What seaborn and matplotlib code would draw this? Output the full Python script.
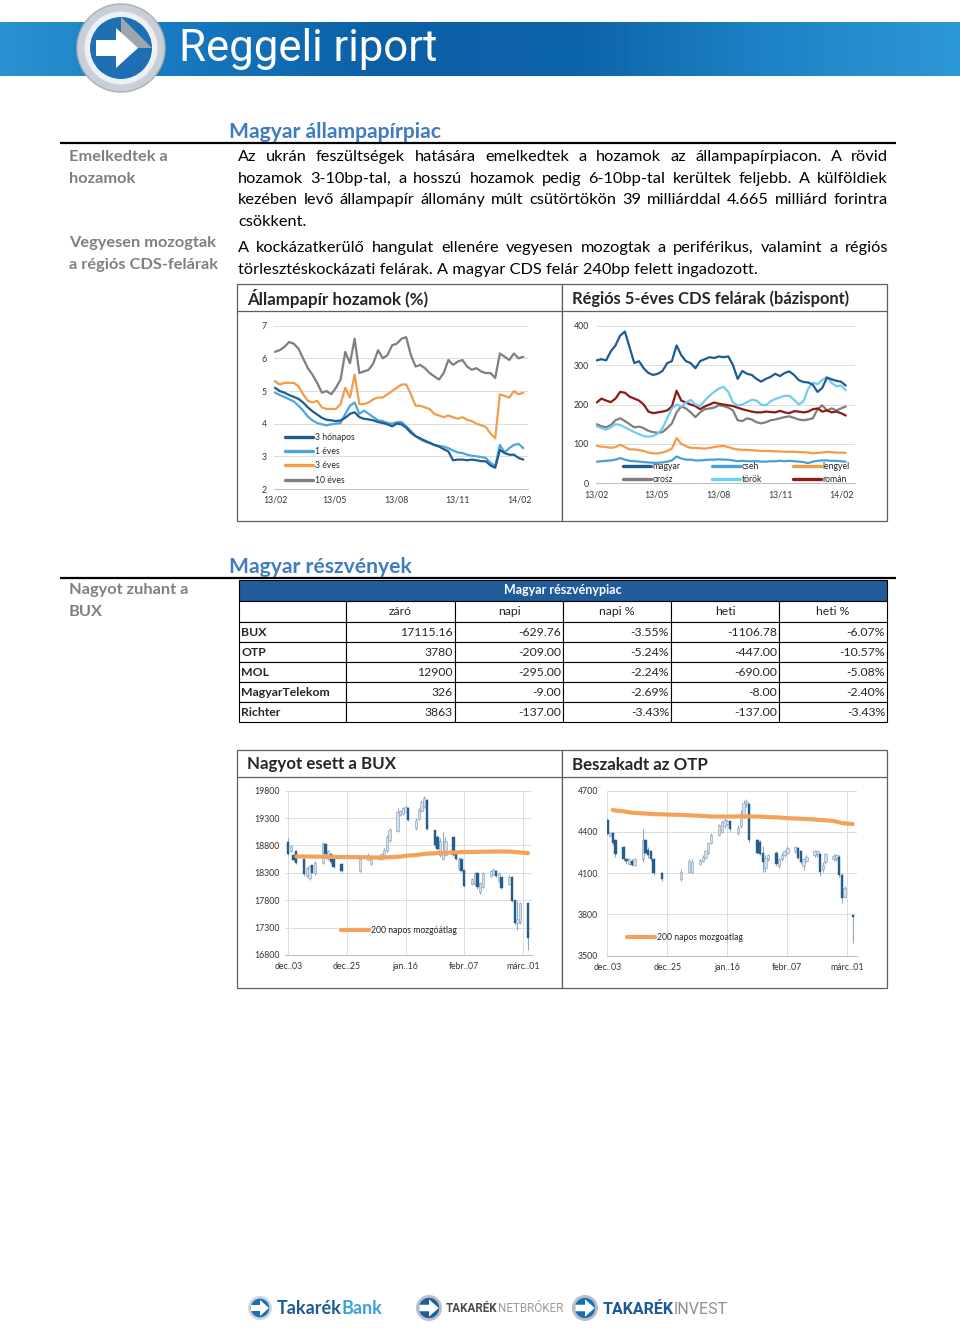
import numpy as np
import pandas as pd
import matplotlib
matplotlib.use("Agg")
import matplotlib.pyplot as plt
import matplotlib.dates as mdates
from matplotlib.lines import Line2D
from matplotlib.patches import Rectangle, Circle, Polygon
from matplotlib.colors import LinearSegmentedColormap
import seaborn as sns

sns.set_theme(style="white")
plt.rcParams["font.family"] = ["Lato", "DejaVu Sans"]

# ---------------- data ----------------
# Állampapír hozamok (%), weekly from 2013-02-01
yield_dates = pd.date_range("2013-02-01", periods=54, freq="7D")
y_3m = [5.1, 5.0, 4.95, 4.88, 4.82, 4.76, 4.65, 4.5, 4.38, 4.28,
        4.18, 4.12, 4.1, 4.08, 4.1, 4.18, 4.3, 4.35, 4.2, 4.15,
        4.13, 4.1, 4.05, 4.02, 3.98, 3.92, 4.0, 3.98, 3.88, 3.72,
        3.62, 3.55, 3.48, 3.42, 3.35, 3.3, 3.22, 3.15, 2.88, 2.9,
        2.9, 2.88, 2.9, 2.88, 2.85, 2.85, 2.72, 2.65, 3.2, 3.1,
        3.05, 3.05, 2.95, 2.9]
y_1y = [4.95, 4.88, 4.82, 4.75, 4.68, 4.55, 4.4, 4.22, 4.1, 4.02,
        3.98, 3.95, 3.98, 4.0, 4.02, 4.3, 4.55, 4.65, 4.3, 4.4,
        4.3, 4.2, 4.1, 4.08, 4.02, 4.0, 4.05, 4.05, 3.92, 3.78,
        3.62, 3.52, 3.45, 3.4, 3.35, 3.32, 3.3, 3.25, 3.18, 3.12,
        3.1, 3.05, 3.02, 3.0, 2.98, 2.95, 2.8, 2.7, 3.35, 3.12,
        3.25, 3.35, 3.38, 3.25]
y_3y = [5.3, 5.2, 5.25, 5.25, 5.25, 5.15, 4.9, 4.7, 4.65, 4.7,
        4.5, 4.45, 4.45, 4.45, 4.6, 5.1, 4.8, 5.5, 4.6, 4.6,
        4.65, 4.75, 4.8, 4.8, 4.9, 5.0, 5.1, 5.2, 5.2, 4.9,
        4.55, 4.55, 4.5, 4.45, 4.3, 4.25, 4.2, 4.25, 4.2, 4.15,
        4.2, 4.12, 4.08, 4.0, 3.95, 3.9, 3.7, 3.55, 4.9, 4.85,
        4.8, 5.0, 4.9, 4.95]
y_10y = [6.2, 6.25, 6.35, 6.5, 6.45, 6.3, 6.0, 5.7, 5.5, 5.25,
         4.95, 5.0, 4.9, 5.1, 5.35, 6.2, 5.85, 6.6, 5.55, 5.6,
         5.65, 5.85, 6.25, 6.0, 6.1, 6.4, 6.45, 6.6, 6.65, 6.1,
         5.75, 5.8, 5.7, 5.55, 5.45, 5.35, 5.55, 5.95, 5.8, 5.9,
         5.95, 5.75, 5.65, 5.7, 5.6, 5.55, 5.55, 5.4, 6.15, 6.05,
         5.95, 6.15, 6.0, 6.05]
yield_names = ["3 hónapos", "1 éves", "3 éves", "10 éves"]
yield_colors = ["#1f5b94", "#4ea5dc", "#f39c4a", "#7f7f7f"]
yield_ticks = ["2013-02-01", "2013-05-01", "2013-08-01", "2013-11-01", "2014-02-01"]
yield_ticklabels = ["13/02", "13/05", "13/08", "13/11", "14/02"]

# Régiós 5-éves CDS felárak (bázispont)
cds_magyar = [312, 315, 312, 335, 350, 375, 385, 345, 305, 310,
              292, 280, 275, 278, 285, 305, 310, 350, 325, 310,
              305, 292, 310, 315, 320, 318, 322, 320, 322, 300,
              265, 285, 278, 275, 265, 258, 265, 270, 278, 272,
              280, 284, 275, 262, 257, 256, 250, 232, 242, 268,
              264, 260, 258, 248]
cds_cseh = [55, 56, 57, 58, 60, 64, 60, 57, 56, 55,
            54, 53, 52, 52, 53, 55, 58, 68, 63, 60,
            60, 58, 58, 59, 60, 60, 61, 60, 60, 58,
            56, 57, 56, 56, 56, 55, 55, 56, 56, 57,
            56, 57, 56, 55, 54, 51, 55, 57, 58, 58,
            57, 57, 56, 55]
cds_lengyel = [95, 93, 92, 90, 92, 98, 92, 86, 86, 84,
               82, 78, 76, 76, 78, 82, 88, 115, 100, 94,
               90, 90, 89, 88, 90, 92, 94, 95, 92, 88,
               86, 85, 85, 84, 83, 82, 82, 82, 81, 81,
               80, 80, 80, 79, 79, 78, 76, 77, 78, 80,
               79, 78, 78, 77]
cds_orosz = [150, 145, 142, 148, 160, 165, 158, 150, 142, 144,
             140, 133, 130, 128, 130, 140, 152, 180, 195, 190,
             180, 168, 180, 188, 190, 192, 198, 196, 192, 185,
             160, 158, 165, 162, 155, 152, 155, 160, 162, 165,
             168, 170, 166, 162, 160, 162, 165, 188, 198, 185,
             190, 185, 190, 195]
cds_torok = [145, 140, 136, 142, 150, 148, 142, 136, 130, 125,
             120, 118, 120, 126, 140, 165, 190, 200, 195, 205,
             212, 200, 196, 210, 222, 232, 240, 245, 232, 205,
             198, 200, 206, 212, 210, 200, 198, 208, 214, 218,
             222, 222, 212, 200, 208, 240, 255, 252, 262, 270,
             255, 246, 248, 236]
cds_roman = [205, 215, 210, 206, 215, 232, 230, 220, 215, 210,
             200, 182, 178, 180, 182, 185, 195, 235, 210, 205,
             200, 196, 188, 195, 200, 205, 202, 200, 198, 196,
             192, 188, 185, 182, 180, 180, 182, 181, 180, 184,
             180, 178, 183, 182, 180, 182, 188, 190, 182, 185,
             180, 182, 178, 172]
cds_names = ["magyar", "cseh", "lengyel", "orosz", "török", "román"]
cds_colors = ["#1f5b94", "#4a9fd8", "#f39c4a", "#7f7f7f", "#6fcdf2", "#8c1c13"]

# Magyar részvénypiac table
table_cols = ["záró", "napi", "napi %", "heti", "heti %"]
table_rows = ["BUX", "OTP", "MOL", "MagyarTelekom", "Richter"]
table_vals = [["17115.16", "-629.76", "-3.55%", "-1106.78", "-6.07%"],
              ["3780", "-209.00", "-5.24%", "-447.00", "-10.57%"],
              ["12900", "-295.00", "-2.24%", "-690.00", "-5.08%"],
              ["326", "-9.00", "-2.69%", "-8.00", "-2.40%"],
              ["3863", "-137.00", "-3.43%", "-137.00", "-3.43%"]]

# daily candles, BUX and OTP
candle_dates = ["2013-12-03", "2013-12-04", "2013-12-05", "2013-12-06",
                "2013-12-09", "2013-12-10", "2013-12-11", "2013-12-12", "2013-12-13",
                "2013-12-16", "2013-12-17", "2013-12-18", "2013-12-19", "2013-12-20",
                "2013-12-23", "2013-12-30",
                "2014-01-02", "2014-01-03",
                "2014-01-06", "2014-01-07", "2014-01-08", "2014-01-09", "2014-01-10",
                "2014-01-13", "2014-01-14", "2014-01-15", "2014-01-16", "2014-01-17",
                "2014-01-20", "2014-01-21", "2014-01-22", "2014-01-23", "2014-01-24",
                "2014-01-27", "2014-01-28", "2014-01-29", "2014-01-30", "2014-01-31",
                "2014-02-03", "2014-02-04", "2014-02-05", "2014-02-06", "2014-02-07",
                "2014-02-10", "2014-02-11", "2014-02-12", "2014-02-13", "2014-02-14",
                "2014-02-17", "2014-02-18", "2014-02-19", "2014-02-20", "2014-02-21",
                "2014-02-24", "2014-02-25", "2014-02-26", "2014-02-27", "2014-02-28",
                "2014-03-03"]
bux_open = [18870, 18690, 18620, 18700,
            18560, 18250, 18200, 18440, 18300,
            18480, 18830, 18560, 18650, 18600,
            18470, 18330,
            18540, 18460,
            18560, 18560, 18620, 18700, 18900,
            19070, 19350, 19380, 19420, 19490,
            19120, 19290, 19430, 19510, 19630,
            19080, 18960, 18620, 18550, 18620,
            18950, 18660, 18380, 18560, 18350,
            18100, 18100, 18300, 17950, 18050,
            18240, 18270, 18340, 18150, 18220,
            18090, 18230, 17800, 17380, 17400,
            17745]
bux_close = [18650, 18790, 18540, 18480,
             18270, 18390, 18420, 18300, 18480,
             18840, 18640, 18700, 18500, 18400,
             18330, 18550,
             18630, 18600,
             18610, 18640, 18720, 18950, 19080,
             19420, 19430, 19480, 19510, 19260,
             19270, 19450, 19600, 19660, 19100,
             18800, 18730, 18880, 18700, 18880,
             18620, 18550, 18560, 18340, 18060,
             18180, 18300, 18040, 18120, 18300,
             18340, 18360, 18250, 18300, 18030,
             18222, 17780, 17380, 17460, 17745,
             17115]
bux_high = [18930, 18810, 18640, 18720,
            18570, 18410, 18440, 18450, 18510,
            18870, 18840, 18720, 18660, 18620,
            18480, 18570,
            18660, 18630,
            18630, 18660, 18750, 18990, 19110,
            19480, 19450, 19510, 19540, 19510,
            19300, 19480, 19630, 19700, 19650,
            19090, 18990, 18930, 19050, 18960,
            18960, 18690, 18590, 18570, 18360,
            18200, 18320, 18320, 18140, 18320,
            18350, 18380, 18350, 18320, 18230,
            18260, 18240, 17810, 17780, 17760,
            17760]
bux_low = [18620, 18680, 18520, 18470,
           18240, 18220, 18170, 18290, 18260,
           18470, 18620, 18530, 18470, 18380,
           18320, 18320,
           18530, 18440,
           18540, 18530, 18600, 18680, 18870,
           19050, 19330, 19360, 19410, 19240,
           19090, 19270, 19420, 19480, 19080,
           18780, 18710, 18590, 18530, 18600,
           18600, 18530, 18350, 18320, 18040,
           18080, 18080, 18010, 17920, 18020,
           18230, 18260, 18230, 18140, 18010,
           18080, 17760, 17340, 17260, 17370,
           16890]
bux_ma = [None, None, None, 18600,
          18600, 18600, 18598, 18597, 18596,
          18595, 18594, 18593, 18592, 18591,
          18590, 18585,
          18582, 18581,
          18580, 18580, 18580, 18582, 18585,
          18592, 18597, 18603, 18610, 18616,
          18625, 18632, 18638, 18645, 18650,
          18657, 18660, 18663, 18666, 18670,
          18672, 18674, 18676, 18678, 18680,
          18681, 18682, 18683, 18684, 18685,
          18687, 18688, 18689, 18690, 18690,
          18688, 18685, 18680, 18677, 18673,
          18660]
otp_open = [4490, 4370, 4390, 4340,
            4290, 4200, 4170, 4190, 4160,
            4200, 4340, 4270, 4260, 4200,
            4100, 4060,
            4110, 4110,
            4170, 4190, 4210, 4250, 4320,
            4380, 4400, 4440, 4460, 4480,
            4390, 4440, 4520, 4600, 4600,
            4340, 4330, 4250, 4140, 4200,
            4250, 4150, 4200, 4230, 4250,
            4260, 4280, 4260, 4150, 4190,
            4230, 4240, 4240, 4130, 4180,
            4200, 4210, 4220, 4090, 3930,
            3795]
otp_close = [4385, 4395, 4320, 4240,
             4200, 4190, 4200, 4160, 4200,
             4340, 4250, 4230, 4200, 4100,
             4060, 4110,
             4190, 4180,
             4195, 4220, 4260, 4320, 4380,
             4450, 4470, 4490, 4480, 4420,
             4430, 4530, 4610, 4620, 4340,
             4250, 4240, 4180, 4210, 4230,
             4170, 4200, 4230, 4260, 4280,
             4290, 4210, 4180, 4200, 4220,
             4260, 4260, 4110, 4160, 4240,
             4227, 4230, 4090, 3920, 3989,
             3780]
otp_high = [4500, 4400, 4400, 4350,
            4300, 4210, 4210, 4200, 4210,
            4420, 4350, 4290, 4270, 4210,
            4110, 4130,
            4200, 4200,
            4200, 4230, 4270, 4330, 4390,
            4460, 4480, 4510, 4490, 4490,
            4450, 4560, 4630, 4640, 4610,
            4350, 4340, 4300, 4230, 4240,
            4260, 4210, 4250, 4270, 4300,
            4300, 4290, 4270, 4210, 4230,
            4270, 4270, 4250, 4180, 4250,
            4240, 4240, 4230, 4100, 4010,
            3795]
otp_low = [4375, 4365, 4305, 4220,
           4190, 4170, 4160, 4150, 4150,
           4180, 4240, 4210, 4190, 4090,
           4040, 4040,
           4100, 4100,
           4160, 4180, 4200, 4240, 4310,
           4370, 4390, 4430, 4450, 4410,
           4380, 4430, 4500, 4580, 4330,
           4240, 4230, 4110, 4110, 4190,
           4150, 4140, 4190, 4220, 4240,
           4250, 4200, 4170, 4120, 4180,
           4220, 4220, 4080, 4110, 4170,
           4190, 4190, 4070, 3880, 3920,
           3590]
otp_ma = [None, None, 4560, 4556,
          4550, 4546, 4543, 4540, 4538,
          4535, 4534, 4532, 4531, 4530,
          4528, 4524,
          4521, 4520,
          4518, 4516, 4515, 4514, 4512,
          4512, 4512, 4512, 4512, 4512,
          4513, 4513, 4513, 4513, 4513,
          4512, 4511, 4510, 4509, 4508,
          4506, 4505, 4503, 4502, 4500,
          4498, 4497, 4496, 4495, 4494,
          4491, 4489, 4487, 4486, 4485,
          4480, 4475, 4470, 4465, 4462,
          4458]
stock_ticks = ["2013-12-03", "2013-12-25", "2014-01-16", "2014-02-07", "2014-03-01"]
stock_ticklabels = ["dec..03", "dec..25", "jan..16", "febr..07", "márc..01"]

# ---------------- page ----------------
W, H = 960, 1329
fig = plt.figure(figsize=(W / 100, H / 100), dpi=100)
bg = fig.add_axes([0, 0, 1, 1])
bg.set_xlim(0, W)
bg.set_ylim(H, 0)
bg.axis("off")
renderer = fig.canvas.get_renderer()


def add_ax(x0, y0, x1, y1):
    return fig.add_axes([x0 / W, 1 - y1 / H, (x1 - x0) / W, (y1 - y0) / H])


def hline(x0, x1, y, color="black", lw=1.0):
    bg.plot([x0, x1], [y, y], color=color, lw=lw, solid_capstyle="butt")


def width_of(t):
    return t.get_window_extent(renderer=renderer).width


# header band
band = LinearSegmentedColormap.from_list(
    "band", ["#2b92d2", "#1677be", "#0b5fa5", "#0d63a9", "#1e82c6", "#2d98d6"])
grad = np.linspace(0, 1, 400).reshape(1, -1)
bg.imshow(grad, extent=(0, W, 76, 22), aspect="auto", cmap=band, zorder=1)
bg.set_xlim(0, W)
bg.set_ylim(H, 0)
bg.add_patch(Circle((121, 48), 44, fc="#c9cfd6", ec="#a9b1ba", lw=1, zorder=2))
bg.add_patch(Circle((121, 48), 37, fc="#eef1f4", ec="#d0d5db", lw=1, zorder=3))
bg.add_patch(Circle((121, 48), 31, fc="#1e6fb3", ec="none", zorder=4))
bg.add_patch(Polygon([(121, 17), (152, 48), (121, 48)], fc="#9da6ae", ec="none", zorder=4))
bg.add_patch(Polygon([(96, 40), (116, 40), (116, 28), (138, 48), (116, 68), (116, 56), (96, 56)],
                     fc="white", ec="none", zorder=5))
bg.text(179, 49, "Reggeli riport", color="white", fontsize=31.5, weight="normal",
        family=["Roboto", "DejaVu Sans"], va="center", ha="left", zorder=6)

# section headings and rules
head_col = "#3f7cc4"
bg.text(229, 138, "Magyar állampapírpiac", color=head_col, fontsize=15.2, weight="bold",
        va="baseline")
hline(60, 896, 143, lw=1.6)
bg.text(229, 573, "Magyar részvények", color=head_col, fontsize=15.2, weight="bold",
        va="baseline")
hline(60, 896, 578, lw=1.6)

side_col = "#808080"
for y, s in [(161, "Emelkedtek a"), (183, "hozamok"), (247, "Vegyesen mozogtak"),
             (269, "a régiós CDS-felárak"), (594, "Nagyot zuhant a"), (616, "BUX")]:
    bg.text(69, y, s, color=side_col, fontsize=11.8, weight="bold", va="baseline")

body_size = 11.75
lines = [
    ("Az ukrán feszültségek hatására emelkedtek a hozamok az állampapírpiacon. A rövid", 161, True),
    ("hozamok 3-10bp-tal, a hosszú hozamok pedig 6-10bp-tal kerültek feljebb. A külföldiek", 183, True),
    ("kezében levő állampapír állomány múlt csütörtökön 39 milliárddal 4.665 milliárd forintra", 204, True),
    ("csökkent.", 226, False),
    ("A kockázatkerülő hangulat ellenére vegyesen mozogtak a periférikus, valamint a régiós", 252, True),
    ("törlesztéskockázati felárak. A magyar CDS felár 240bp felett ingadozott.", 274, False),
]
for s, y, just in lines:
    if not just:
        bg.text(238, y, s, fontsize=body_size, va="baseline", color="black")
        continue
    words = s.split(" ")
    arts = [bg.text(238, y, w, fontsize=body_size, va="baseline", color="black") for w in words]
    wids = [width_of(a) for a in arts]
    gap = (888 - 238 - sum(wids)) / (len(arts) - 1)
    x = 238
    for a, w in zip(arts, wids):
        a.set_x(x)
        x += w + gap

# chart frames
frame_col = "#5f5f5f"
for (x0, y0, x1, y1, yt, title, fs) in [
        (237, 284, 562, 521, 311, "Állampapír hozamok (%)", 12.2),
        (562, 284, 887, 521, 311, "Régiós 5-éves CDS felárak (bázispont)", 11.9),
        (237, 750, 562, 988, 777, "Nagyot esett a BUX", 12.2),
        (562, 750, 887, 988, 777, "Beszakadt az OTP", 12.2)]:
    bg.add_patch(Rectangle((x0, y0), x1 - x0, y1 - y0, fc="white", ec=frame_col, lw=0.9))
    hline(x0, x1, yt, color=frame_col, lw=0.9)
    bg.text(x0 + 10, (y0 + yt) / 2 + 1, title, fontsize=fs, weight="bold", va="center")


def date_lim(ax, d0, p0, d1, p1, left, right):
    n0, n1 = mdates.date2num(pd.Timestamp(d0)), mdates.date2num(pd.Timestamp(d1))
    s = (n1 - n0) / (p1 - p0)
    ax.set_xlim(n0 + (left - p0) * s, n0 + (right - p0) * s)


def style_ax(ax, ticks, labels, ypad, xpad, vgrid=False):
    ax.set_facecolor("none")
    ax.set_xticks(mdates.date2num(pd.to_datetime(ticks)))
    ax.set_xticklabels(labels)
    for sp in ["left", "top", "right"]:
        ax.spines[sp].set_visible(False)
    ax.spines["bottom"].set_color("#bfbfbf")
    ax.spines["bottom"].set_linewidth(0.8)
    ax.grid(axis="y", color="#dcdcdc", lw=0.7)
    if vgrid:
        ax.grid(axis="x", color="#dcdcdc", lw=0.7)
    ax.tick_params(axis="y", length=0, labelsize=6.3, pad=ypad, colors="#333333")
    ax.tick_params(axis="x", length=0, labelsize=6.3, pad=xpad, colors="#333333")
    ax.set_xlabel("")
    ax.set_ylabel("")


# chart 1: yields
x_y = mdates.date2num(yield_dates)
df_y = pd.DataFrame({
    "x": np.tile(x_y, 4),
    "value": y_3m + y_1y + y_3y + y_10y,
    "series": np.repeat(yield_names, len(x_y)),
})
ax1 = add_ax(274, 325.7, 528, 489)
draw_order = ["10 éves", "3 éves", "1 éves", "3 hónapos"]
pal1 = dict(zip(yield_names, yield_colors))
sns.lineplot(data=df_y, x="x", y="value", hue="series", hue_order=draw_order, palette=pal1,
             estimator=None, linewidth=1.6, legend=False, ax=ax1)
ax1.set_ylim(2, 7)
ax1.set_yticks([2, 3, 4, 5, 6, 7])
date_lim(ax1, "2013-02-01", 275, "2014-02-01", 519.3, 274, 528)
style_ax(ax1, yield_ticks, yield_ticklabels, ypad=5, xpad=5)
h1 = [Line2D([], [], color=c, lw=2.4) for c in yield_colors]
ax1.legend(h1, yield_names, loc="upper left", bbox_to_anchor=(0.043, 0.345), frameon=False,
           fontsize=6.2, handlelength=3.3, handletextpad=0.15, labelspacing=0.62, borderpad=0,
           borderaxespad=0)

# chart 2: CDS
df_c = pd.DataFrame({
    "x": np.tile(x_y, 6),
    "value": cds_magyar + cds_cseh + cds_lengyel + cds_orosz + cds_torok + cds_roman,
    "series": np.repeat(cds_names, len(x_y)),
})
ax2 = add_ax(596, 325.7, 855, 483.3)
pal2 = dict(zip(cds_names, cds_colors))
sns.lineplot(data=df_c, x="x", y="value", hue="series",
             hue_order=["cseh", "lengyel", "orosz", "román", "török", "magyar"], palette=pal2,
             estimator=None, linewidth=1.6, legend=False, ax=ax2)
ax2.set_ylim(0, 400)
ax2.set_yticks([0, 100, 200, 300, 400])
date_lim(ax2, "2013-02-01", 596.7, "2014-02-01", 841.7, 596, 855)
style_ax(ax2, yield_ticks, yield_ticklabels, ypad=5, xpad=5)
leg_order = ["magyar", "orosz", "cseh", "török", "lengyel", "román"]
h2 = [Line2D([], [], color=pal2[n], lw=2.4) for n in leg_order]
ax2.legend(h2, leg_order, loc="upper left", bbox_to_anchor=(0.104, 0.135), frameon=False, ncol=3,
           fontsize=6.2, handlelength=3.3, handletextpad=0.15, labelspacing=0.45, borderpad=0,
           columnspacing=3.6, borderaxespad=0)

# candlestick charts
x_c = mdates.date2num(pd.to_datetime(candle_dates))


def candles(ax, o, c, hi, lo, ma):
    o, c, hi, lo = map(np.array, (o, c, hi, lo))
    up = c >= o
    ax.vlines(x_c, lo, hi, color="#8ea8bf", lw=0.8, zorder=2)
    ax.bar(x_c[up], (c - o)[up], bottom=o[up], width=0.9, color="#d3dfea",
           edgecolor="#7f9dba", linewidth=0.4, zorder=3)
    ax.bar(x_c[~up], (c - o)[~up], bottom=o[~up], width=0.9, color="#245e8f",
           edgecolor="#245e8f", linewidth=0.3, zorder=3)
    sns.lineplot(x=x_c, y=np.array(ma, dtype=float), color="#f3a25a", linewidth=3.0, ax=ax,
                 zorder=4)
    return Line2D([], [], color="#f3a25a", lw=3.0)


ax3 = add_ax(285, 790.7, 532, 955)
hm = candles(ax3, bux_open, bux_close, bux_high, bux_low, bux_ma)
ax3.set_ylim(16800, 19800)
ax3.set_yticks(np.arange(16800, 19801, 500))
date_lim(ax3, "2013-12-03", 288.3, "2014-03-01", 522.7, 285, 532)
style_ax(ax3, stock_ticks, stock_ticklabels, ypad=4, xpad=5, vgrid=True)
ax3.legend([hm], ["200 napos mozgóátlag"], loc="center left", bbox_to_anchor=(0.227, 0.152),
           frameon=False, fontsize=6.2, handlelength=3.3, handletextpad=0.15, borderpad=0,
           borderaxespad=0)

ax4 = add_ax(606.7, 790.7, 856.7, 955.7)
hm = candles(ax4, otp_open, otp_close, otp_high, otp_low, otp_ma)
ax4.set_ylim(3500, 4700)
ax4.set_yticks(np.arange(3500, 4701, 300))
date_lim(ax4, "2013-12-03", 607.3, "2014-03-01", 847.3, 606.7, 856.7)
style_ax(ax4, stock_ticks, stock_ticklabels, ypad=6, xpad=5, vgrid=True)
ax4.legend([hm], ["200 napos mozgoatlag"], loc="center left", bbox_to_anchor=(0.081, 0.113),
           frameon=False, fontsize=6.2, handlelength=3.3, handletextpad=0.15, borderpad=0,
           borderaxespad=0)

# table
cols_x = [239, 346, 455, 563, 671, 779, 887]
rows_y = [601, 622, 642, 662, 682, 702, 722]
bg.add_patch(Rectangle((239, 580), 887 - 239, 21, fc="#1f5c99", ec="black", lw=0.8))
bg.text(563, 590.5, "Magyar részvénypiac", color="white", fontsize=9, weight="bold",
        ha="center", va="center")
for r in range(len(rows_y) - 1):
    for ci in range(len(cols_x) - 1):
        bg.add_patch(Rectangle((cols_x[ci], rows_y[r]), cols_x[ci + 1] - cols_x[ci],
                               rows_y[r + 1] - rows_y[r], fc="white", ec="black", lw=0.8))
for ci, name in enumerate(table_cols):
    bg.text((cols_x[ci + 1] + cols_x[ci + 2]) / 2, (rows_y[0] + rows_y[1]) / 2, name,
            fontsize=8.8, ha="center", va="center")
for r, (name, vals) in enumerate(zip(table_rows, table_vals)):
    yc = (rows_y[r + 1] + rows_y[r + 2]) / 2
    bg.text(241, yc, name, fontsize=8.8, weight="bold", ha="left", va="center")
    for ci, v in enumerate(vals):
        bg.text(cols_x[ci + 2] - 2, yc, v, fontsize=8.8, ha="right", va="center")

# footer logos


def icon(cx, cy, r, ring, fill):
    bg.add_patch(Circle((cx, cy), r, fc=ring, ec="none"))
    bg.add_patch(Circle((cx, cy), r * 0.78, fc=fill, ec="none"))
    s = r / 12.0
    bg.add_patch(Polygon([(cx - 9 * s, cy - 3 * s), (cx, cy - 3 * s), (cx, cy - 8 * s),
                          (cx + 9 * s, cy), (cx, cy + 8 * s), (cx, cy + 3 * s),
                          (cx - 9 * s, cy + 3 * s)], fc="white", ec="none"))


def two_part(x, y, a, b, ca, cb, size, fam, wb="normal"):
    t = bg.text(x, y, a, color=ca, fontsize=size, weight="bold", va="center", family=fam)
    bg.text(x + width_of(t), y, b, color=cb, fontsize=size, weight=wb, va="center", family=fam)


icon(260, 1308, 12, "#cfd8e0", "#1d6fb3")
two_part(277, 1309, "Takarék", "Bank", "#1b5a94", "#3fa0d8", 13, ["Lato", "DejaVu Sans"], "bold")
icon(429, 1308, 13, "#b9c0c7", "#1d5f9c")
two_part(446, 1309, "TAKARÉK", "NETBRÓKER", "#4a4a4a", "#9a9a9a", 8.4, ["Roboto", "DejaVu Sans"])
icon(585, 1308, 13, "#b9c0c7", "#1d6fb3")
two_part(603, 1309, "TAKARÉK", "INVEST", "#1b5a94", "#8f8f8f", 11.5, ["Roboto", "DejaVu Sans"])

fig.savefig("out.png", dpi=100)
